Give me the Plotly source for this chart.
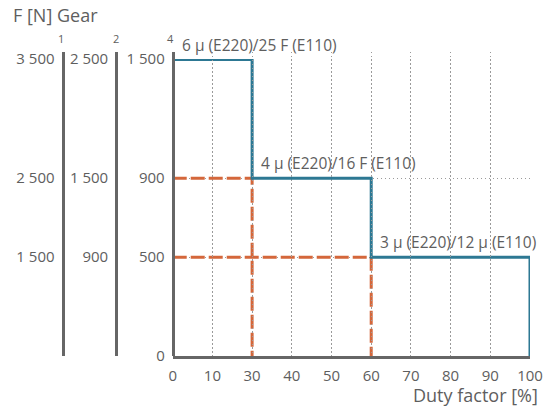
import plotly.graph_objects as go

# Data
x_categories = ["0", "10", "30", "40", "50", "60", "70", "80", "90", "100"]
duty_x = ["0", "30", "30", "60", "60", "100", "100"]
force_y = [1500, 1500, 900, 900, 500, 500, 0]
ref1_x = ["0", "30", "30"]
ref1_y = [900, 900, 0]
ref2_x = ["0", "60", "60"]
ref2_y = [500, 500, 0]

y_ticks = [0, 500, 900, 1500]
gear4_labels = ["0", "500", "900", "1 500"]
gear_ticks = [500, 900, 1500]
gear2_labels = ["900", "1 500", "2 500"]
gear1_labels = ["1 500", "2 500", "3 500"]
gear_names = ["1", "2", "4"]

step_labels = ["6 μ (E220)/25 F (E110)", "4 μ (E220)/16 F (E110)", "3 μ (E220)/12 μ (E110)"]
step_label_x = ["0", "30", "60"]
step_label_y = [1500, 900, 500]

BLUE = "#2d7893"
ORANGE = "#d4673b"
GRAY = "#666666"
GRID = "#9a9a9a"
TXT = "#5e5e5e"
FONT = "Open Sans"

W, H = 544, 412
ML, MR, MT, MB = 0, 14, 52, 56
PW = W - ML - MR
PH = H - MT - MB
main_top = (356 - 59) / PH  # top of data area relative to the axis-line area

def px(p):
    return (p - ML) / PW

def py(p):
    return (H - MB - p) / PH

fig = go.Figure()
dash = "14px,4px"
fig.add_trace(go.Scatter(x=ref1_x, y=ref1_y, mode="lines", cliponaxis=False,
                         line=dict(color=ORANGE, width=3, dash=dash), hoverinfo="skip"))
fig.add_trace(go.Scatter(x=ref2_x, y=ref2_y, mode="lines", cliponaxis=False,
                         line=dict(color=ORANGE, width=3, dash=dash), hoverinfo="skip"))
fig.add_trace(go.Scatter(x=duty_x, y=force_y, mode="lines", cliponaxis=False,
                         line=dict(color=BLUE, width=3), hoverinfo="skip"))
for ax in ["y2", "y3", "y4"]:
    fig.add_trace(go.Scatter(x=[None], y=[None], yaxis=ax, showlegend=False, hoverinfo="skip"))

x0 = px(170)
full_range = [0, 1500 / main_top]
side_axis = dict(domain=[0, 1], range=full_range, anchor="free", side="left",
                 showgrid=False, showline=True, linecolor=GRAY, linewidth=3,
                 zeroline=False, ticks="", ticklabelstandoff=4,
                 tickfont=dict(size=15, color=TXT, family=FONT))
grid_dash = "1px,3px"

fig.update_layout(
    width=W, height=H,
    margin=dict(l=ML, r=MR, t=MT, b=MB),
    paper_bgcolor="white", plot_bgcolor="rgba(0,0,0,0)",
    showlegend=False,
    font=dict(family=FONT, size=15, color=TXT),
    xaxis=dict(domain=[x0, 1], type="category", categoryorder="array",
               categoryarray=x_categories, tickvals=x_categories,
               range=[0, len(x_categories) - 1],
               showgrid=True, gridcolor=GRID, griddash=grid_dash, gridwidth=1,
               showline=True, linecolor=GRAY, linewidth=3, zeroline=False,
               ticks="", ticklabelstandoff=4, tickfont=dict(size=15, color=TXT)),
    yaxis=dict(domain=[0, main_top], range=[0, 1503], tickvals=y_ticks,
               showticklabels=False,
               showgrid=True, gridcolor=GRID, griddash=grid_dash, gridwidth=1,
               showline=False, zeroline=False, ticks=""),
    yaxis4=dict(side_axis, position=x0, tickvals=y_ticks, ticktext=gear4_labels),
    yaxis2=dict(side_axis, position=px(113), tickvals=gear_ticks, ticktext=gear2_labels),
    yaxis3=dict(side_axis, position=px(59), tickvals=gear_ticks, ticktext=gear1_labels),
)

annos = [
    dict(text="F [N] Gear", x=px(7), y=py(15), xanchor="left", yanchor="middle",
         font=dict(size=18)),
    dict(text="Duty factor [%]", x=px(540), y=py(395), xanchor="right", yanchor="middle",
         font=dict(size=18)),
]
for name, gx in zip(gear_names, [57, 113, 168]):
    annos.append(dict(text=name, x=px(gx), y=py(38), xanchor="center", yanchor="middle",
                      font=dict(size=11)))
for a in annos:
    a.update(xref="paper", yref="paper", showarrow=False)
    fig.add_annotation(**a)

for t, lx, ly in zip(step_labels, step_label_x, step_label_y):
    fig.add_annotation(text=t, x=x_categories.index(lx), y=ly, xref="x", yref="y",
                       xanchor="left", yanchor="middle", xshift=7, yshift=15,
                       showarrow=False, font=dict(size=15.5, color=TXT))

# remove the default 8px page margin so the figure fills the window exactly
fig.write_html("out.html", config={"displayModeBar": False},
               post_script="document.body.style.margin='0';")
